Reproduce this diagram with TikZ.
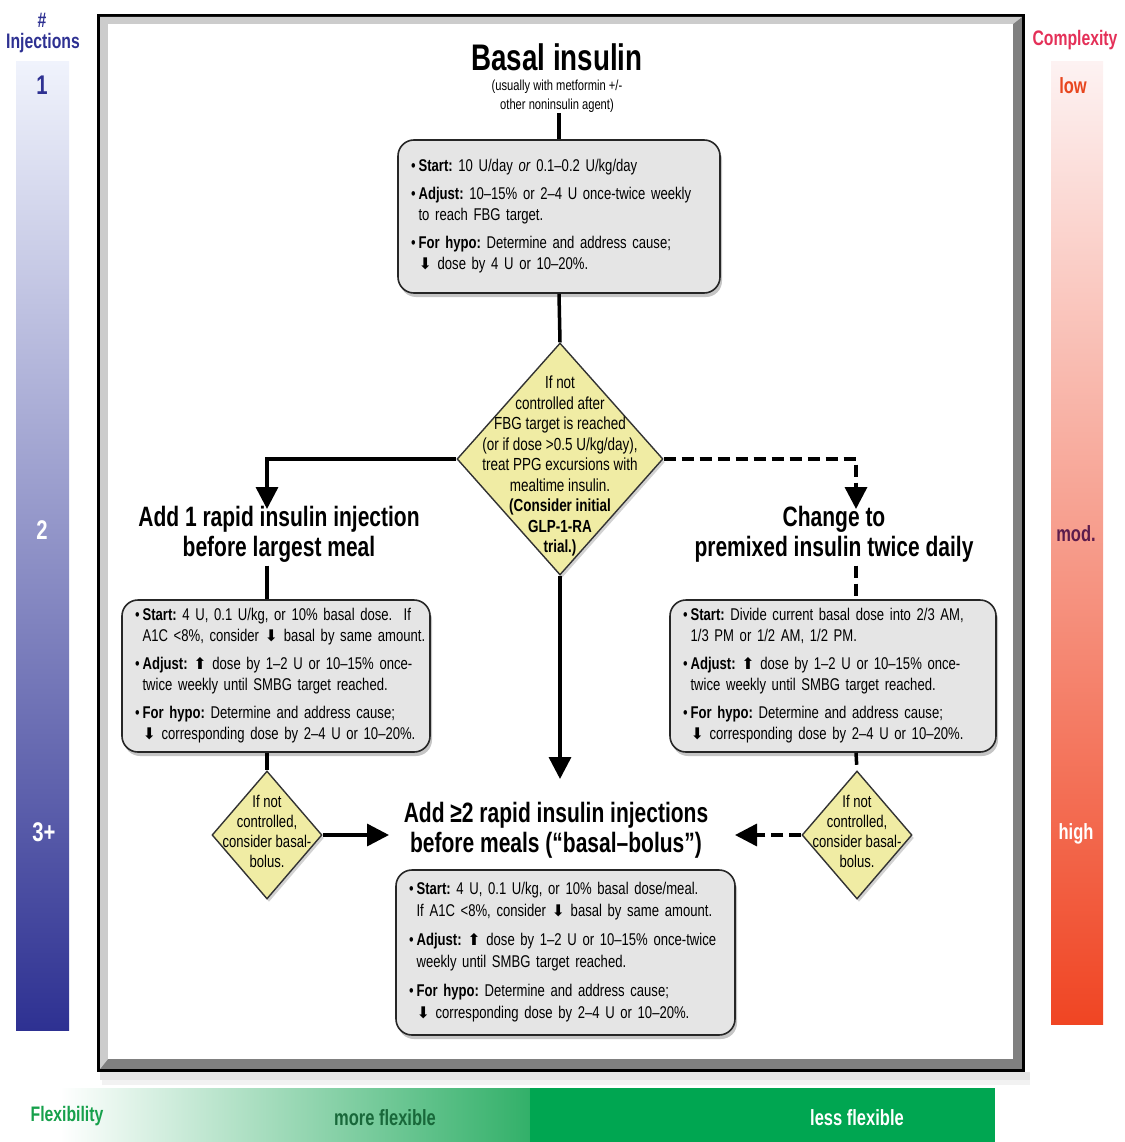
\documentclass[tikz,border=0pt]{standalone}
\usepackage{fontspec}
\setmainfont{Liberation Sans}[FakeStretch=0.77]
\newfontfamily\narrowfont{Liberation Sans}[FakeStretch=0.75]
\newfontfamily\arrowglyphs{DejaVu Sans}
\usetikzlibrary{arrows.meta,shapes.geometric,shadows,calc}
\frenchspacing

% heavy up / down arrows used inside the dosing boxes
\newcommand\dnarrow{{\arrowglyphs\fontsize{16}{16}\selectfont\char"2B07}}
\newcommand\uparrowglyph{{\arrowglyphs\fontsize{16}{16}\selectfont\char"2B06}}

\definecolor{navy}{RGB}{46,49,146}
\definecolor{navylight}{RGB}{240,243,252}
\definecolor{redend}{RGB}{240,69,35}
\definecolor{pinktop}{RGB}{253,242,242}
\definecolor{crimson}{RGB}{228,48,88}
\definecolor{lowred}{RGB}{232,70,30}
\definecolor{modpurple}{RGB}{92,28,76}
\definecolor{flexgreen}{RGB}{0,166,81}
\definecolor{midgreen}{RGB}{50,176,105}
\definecolor{darkgreen}{RGB}{24,104,58}
\definecolor{flexlabel}{RGB}{22,160,75}
\definecolor{paleyellow}{RGB}{240,236,164}
\definecolor{boxgrey}{RGB}{229,229,229}

\tikzset{
  conn/.style={line width=3.5pt, draw=black},
  dconn/.style={conn, dash pattern=on 12pt off 6pt},
  tip/.style={-{Triangle[length=22pt,width=22pt]}},
  infobox/.style={draw=black!85, line width=1.6pt, rounded corners=16pt,
    fill=boxgrey, drop shadow={shadow xshift=2pt,shadow yshift=-4pt,opacity=0.45},
    inner xsep=13pt, inner ysep=0pt, align=left, text=black,
    font=\fontsize{17}{21}\selectfont},
  decision/.style={shape=diamond, draw=black!80, line width=1.4pt, fill=paleyellow,
    inner sep=0pt, drop shadow={shadow xshift=2pt,shadow yshift=-3pt,opacity=0.35}},
  dectext/.style={align=center, text=black, font=\fontsize{17.5}{20.5}\selectfont},
  smalltext/.style={align=center, text=black, font=\fontsize{17}{20}\selectfont},
  hdr/.style={align=center, text=black, font=\narrowfont\bfseries\fontsize{28}{30}\selectfont},
  sidelabel/.style={font=\narrowfont\bfseries\fontsize{21}{22}\selectfont},
  sidenum/.style={font=\narrowfont\bfseries\fontsize{27}{28}\selectfont},
  barlabel/.style={font=\narrowfont\bfseries\fontsize{22}{24}\selectfont},
}

\begin{document}
\begin{tikzpicture}[x=1pt,y=-1pt]
\useasboundingbox (0,0) rectangle (1124,1142);

% ---- side scales ----
\shade[top color=navylight, bottom color=navy] (16,62) rectangle (69,1030);
\shade[top color=pinktop, bottom color=redend] (1051,62) rectangle (1103,1024);
\shade[left color=white, right color=midgreen] (60,1088) rectangle (530,1142);
\fill[flexgreen] (530,1088) rectangle (995,1142);

\node[sidelabel, text=navy] (hash) at (42,20) {\#};
\node[sidelabel, text=navy] (inj) at (43,43) {Injections};
\node[sidenum, text=navy] (n1) at (42,85) {1};
\node[sidenum, text=white] (n2) at (42,530) {2};
\node[sidenum, text=white] (n3) at (44,832) {3+};

\node[sidelabel, text=crimson] (cplx) at (1075,40) {Complexity};
\node[barlabel, text=lowred] (clow) at (1073,86) {low};
\node[barlabel, text=modpurple] (cmod) at (1076,534) {mod.};
\node[barlabel, text=white] (chigh) at (1076,834) {high};

\node[barlabel, text=flexlabel, font=\narrowfont\bfseries\fontsize{21}{22}\selectfont] (flex) at (67,1116) {Flexibility};
\node[barlabel, text=darkgreen] (more) at (385,1118) {more flexible};
\node[barlabel, text=white] (less) at (857,1118) {less flexible};

% ---- bevelled frame ----
\fill[black!10] (100,1072) rectangle (1030,1080);
\fill[black!5] (102,1080) rectangle (1030,1085);
\fill[black] (97,14) rectangle (1025,1072);
\fill[black!50] (100,17) rectangle (1022,1069);
\fill[black!20] (100,17) -- (1022,17) -- (1013,24) -- (108,24) -- (108,1059) -- (100,1069) -- cycle;
\fill[white] (108,24) rectangle (1013,1059);

% ---- top: basal insulin ----
\node[inner sep=0pt, font=\narrowfont\bfseries\fontsize{37}{40}\selectfont] (title) at (557,57) {Basal insulin};
\node[align=center, inner sep=1pt, font=\fontsize{14.5}{19}\selectfont] (sub) at (557,96)
  {(usually with metformin +/-\\other noninsulin agent)};

\node[infobox, minimum width=322pt, minimum height=153pt, text width=296pt] (b0) at (559,216.5) {%
\begin{tabular}{@{}l@{\hspace{3pt}}l@{}}
\textbullet & \textbf{Start:} 10 U/day \emph{or} 0.1--0.2 U/kg/day\\[7pt]
\textbullet & \textbf{Adjust:} 10--15\% or 2--4 U once-twice weekly\\
 & to reach FBG target.\\[7pt]
\textbullet & \textbf{For hypo:} Determine and address cause;\\
 & \dnarrow\ dose by 4 U or 10--20\%.
\end{tabular}};

\node[decision, minimum width=206pt, minimum height=232pt,
  label={[dectext, yshift=-7pt]center:{If not\\controlled after\\FBG target is reached\\(or if dose >0.5 U/kg/day),\\treat PPG excursions with\\mealtime insulin.\\\textbf{(Consider initial}\\\textbf{GLP-1-RA}\\\textbf{trial.)}}}]
  (d1) at (560,459) {};

% ---- branch titles ----
\node[hdr] (tl) at (279,534) {Add 1 rapid insulin injection\\before largest meal};
\node[hdr] (tr) at (834,534) {Change to\\premixed insulin twice daily};
\node[hdr] (bt2) at (556,830) {Add ≥2 rapid insulin injections\\before meals (“basal–bolus”)};

% ---- left branch box ----
\node[infobox, minimum width=308pt, minimum height=152pt, text width=282pt] (b1) at (276,676) {%
\begin{tabular}{@{}l@{\hspace{3pt}}l@{}}
\textbullet & \textbf{Start:} 4 U, 0.1 U/kg, or 10\% basal dose.\ \ If\\
 & A1C <8\%, consider \dnarrow\ basal by same amount.\\[7pt]
\textbullet & \textbf{Adjust:} \uparrowglyph\ dose by 1--2 U or 10--15\% once-\\
 & twice weekly until SMBG target reached.\\[7pt]
\textbullet & \textbf{For hypo:} Determine and address cause;\\
 & \dnarrow\ corresponding dose by 2--4 U or 10--20\%.
\end{tabular}};

% ---- right branch box ----
\node[infobox, minimum width=326pt, minimum height=152pt, text width=300pt] (b2) at (833,676) {%
\begin{tabular}{@{}l@{\hspace{3pt}}l@{}}
\textbullet & \textbf{Start:} Divide current basal dose into 2/3 AM,\\
 & 1/3 PM or 1/2 AM, 1/2 PM.\\[7pt]
\textbullet & \textbf{Adjust:} \uparrowglyph\ dose by 1--2 U or 10--15\% once-\\
 & twice weekly until SMBG target reached.\\[7pt]
\textbullet & \textbf{For hypo:} Determine and address cause;\\
 & \dnarrow\ corresponding dose by 2--4 U or 10--20\%.
\end{tabular}};

% ---- bottom box ----
\node[infobox, minimum width=339pt, minimum height=165pt, text width=313pt,
  font=\fontsize{17}{22}\selectfont] (b3) at (565.5,952.5) {%
\begin{tabular}{@{}l@{\hspace{3pt}}l@{}}
\textbullet & \textbf{Start:} 4 U, 0.1 U/kg, or 10\% basal dose/meal.\\
 & If A1C <8\%, consider \dnarrow\ basal by same amount.\\[7pt]
\textbullet & \textbf{Adjust:} \uparrowglyph\ dose by 1--2 U or 10--15\% once-twice\\
 & weekly until SMBG target reached.\\[7pt]
\textbullet & \textbf{For hypo:} Determine and address cause;\\
 & \dnarrow\ corresponding dose by 2--4 U or 10--20\%.
\end{tabular}};

% ---- small decisions ----
\node[decision, minimum width=110pt, minimum height=128pt,
  label={[smalltext, yshift=4pt]center:{If not\\controlled,\\consider basal-\\bolus.}}] (sd1) at (267,835) {};
\node[decision, minimum width=110pt, minimum height=128pt,
  label={[smalltext, yshift=4pt]center:{If not\\controlled,\\consider basal-\\bolus.}}] (sd2) at (857,835) {};

% ---- arrow end points ----
\coordinate (la) at (267,509);
\coordinate (ra) at (856,509);
\coordinate (ma) at (560,779);
\coordinate (lb) at (389,835);
\coordinate (rb) at (735,835);

% ---- connectors ----
\draw[conn] (b0.north |- sub.south) -- (b0.north);
\draw[conn] (b0.south) -- (d1.north);
\draw[conn,tip] (d1.west) -| (la);
\draw[dconn,tip] (d1.east) -| (ra);
\draw[conn,tip] (d1.south) -- (ma);

\draw[conn] (la |- tl.south) -- (la |- b1.north);
\draw[conn] (la |- b1.south) -- (sd1.north);
\draw[conn,tip] (sd1.east) -- (lb);

\draw[dconn] (ra |- tr.south) -- (ra |- b2.north);
\draw[dconn] (ra |- b2.south) -- (sd2.north);
\draw[dconn,tip] (sd2.west) -- (rb);
\end{tikzpicture}
\end{document}
